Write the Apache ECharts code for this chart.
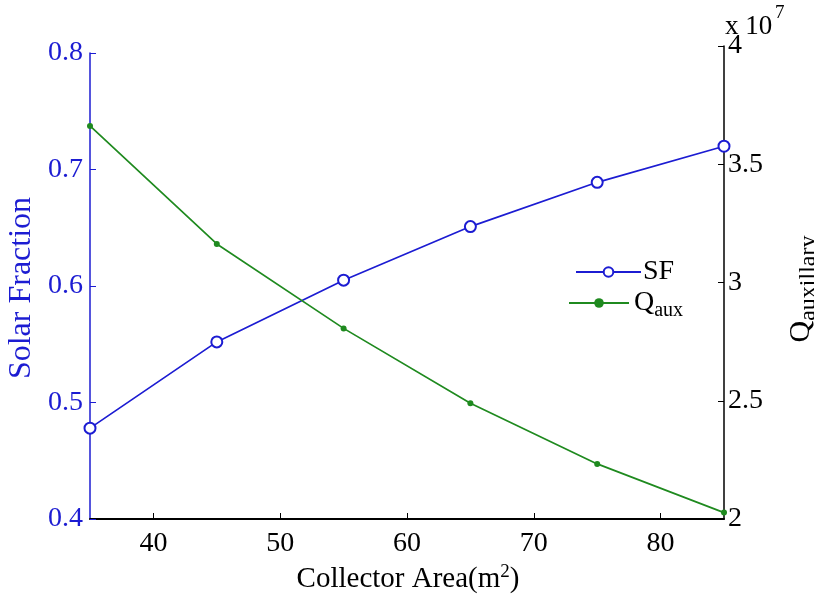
<!DOCTYPE html>
<html><head><meta charset="utf-8">
<script src="https://cdn.jsdelivr.net/npm/echarts@6/dist/echarts.min.js"></script>
<style>html,body{margin:0;padding:0;background:#fff}#c{width:814px;height:598px}</style>
</head><body><div id="c"></div>
<script>
const collectorArea = [35, 45, 55, 65, 75, 85];
const solarFraction = [0.478, 0.552, 0.605, 0.651, 0.689, 0.720];
const qAux = [3.662, 3.163, 2.806, 2.489, 2.233, 2.027]; // x 10^7
const xTicks = [40, 50, 60, 70, 80];

const FONT = 'Liberation Serif';
const BLUE = '#1c1cd2';
const GREEN = '#1f8a1f';

const chart = echarts.init(document.getElementById('c'));
chart.setOption({
  animation: false,
  backgroundColor: '#ffffff',
  textStyle: { fontFamily: FONT },
  grid: [
    { left: 90, right: 90, top: 53, bottom: 79 },
    { left: 90, right: 90, top: 46, bottom: 79 }
  ],
  xAxis: [
    {
      type: 'value', gridIndex: 0, min: 35, max: 85,
      axisLine: { show: true, onZero: false, lineStyle: { color: '#000', width: 2 } },
      axisTick: { show: true, inside: true, length: 6, customValues: xTicks, lineStyle: { color: '#000', width: 1 } },
      axisLabel: { customValues: xTicks, color: '#000', fontFamily: FONT, fontSize: 28, margin: 11 },
      splitLine: { show: false }
    },
    {
      type: 'value', gridIndex: 1, min: 35, max: 85, show: false
    }
  ],
  yAxis: [
    {
      type: 'value', gridIndex: 0, min: 0.4, max: 0.8, interval: 0.1, position: 'left',
      axisLine: { show: true, lineStyle: { color: BLUE, width: 1.5 } },
      axisTick: { show: true, inside: true, length: 6, lineStyle: { color: BLUE } },
      axisLabel: { color: BLUE, fontFamily: FONT, fontSize: 28, margin: 7, formatter: v => v.toFixed(1) },
      splitLine: { show: false }
    },
    {
      type: 'value', gridIndex: 1, min: 2, max: 4, interval: 0.5, position: 'right',
      axisLine: { show: true, lineStyle: { color: '#000', width: 1.5 } },
      axisTick: { show: true, inside: true, length: 6, lineStyle: { color: '#000' } },
      axisLabel: { color: '#000', fontFamily: FONT, fontSize: 28, margin: 4, formatter: v => String(v) },
      splitLine: { show: false }
    }
  ],
  legend: [
    {
      left: 570, top: 253, itemWidth: 65, itemHeight: 12, itemGap: 0,
      textStyle: { fontFamily: FONT, fontSize: 28, color: '#000', padding: [0, 0, 0, -3] },
      data: ['SF']
    },
    {
      left: 563, top: 284, itemWidth: 60, itemHeight: 12, itemGap: 0,
      textStyle: {
        fontFamily: FONT, fontSize: 28, color: '#000',
        rich: {
          q: { fontFamily: FONT, fontSize: 28, color: '#000' },
          s: { fontFamily: FONT, fontSize: 20, color: '#000', padding: [16, 0, 0, 0] }
        }
      },
      formatter: () => '{q|Q}{s|aux}',
      data: ['Q_aux']
    }
  ],
  series: [
    {
      name: 'SF', type: 'line', xAxisIndex: 0, yAxisIndex: 0,
      data: collectorArea.map((x, i) => [x, solarFraction[i]]),
      symbol: 'emptyCircle', symbolSize: 11,
      lineStyle: { color: BLUE, width: 1.7 },
      itemStyle: { color: BLUE, borderColor: BLUE, borderWidth: 1.6 }
    },
    {
      name: 'Q_aux', type: 'line', xAxisIndex: 1, yAxisIndex: 1,
      data: collectorArea.map((x, i) => [x, qAux[i]]),
      symbol: 'circle', symbolSize: 6,
      lineStyle: { color: GREEN, width: 1.7 },
      itemStyle: { color: GREEN }
    }
  ],
  graphic: [
    {
      type: 'text', x: 22, y: 288, rotation: Math.PI / 2,
      style: { text: 'Solar Fraction', fill: BLUE, font: '32px "Liberation Serif"', align: 'center', verticalAlign: 'middle' }
    },
    {
      type: 'text', x: 408, y: 579,
      style: {
        text: '{a|Collector Area(m}{b|2}{a|)}', align: 'center', verticalAlign: 'middle',
        rich: {
          a: { fontFamily: FONT, fontSize: 29, fill: '#000' },
          b: { fontFamily: FONT, fontSize: 19, fill: '#000', padding: [0, 0, 14, 0] }
        }
      }
    },
    {
      type: 'text', x: 801, y: 289, rotation: Math.PI / 2,
      style: {
        text: '{a|Q}{b|auxillary}', align: 'center', verticalAlign: 'middle',
        rich: {
          a: { fontFamily: FONT, fontSize: 30, fill: '#000' },
          b: { fontFamily: FONT, fontSize: 24, fill: '#000', padding: [16, 0, 0, 0] }
        }
      }
    },
    {
      type: 'text', x: 725, y: 13,
      style: { text: 'x 10', fill: '#000', font: '27px "Liberation Serif"' }
    },
    {
      type: 'text', x: 775, y: 4,
      style: { text: '7', fill: '#000', font: '19px "Liberation Serif"' }
    }
  ]
});
</script>
</body></html>
